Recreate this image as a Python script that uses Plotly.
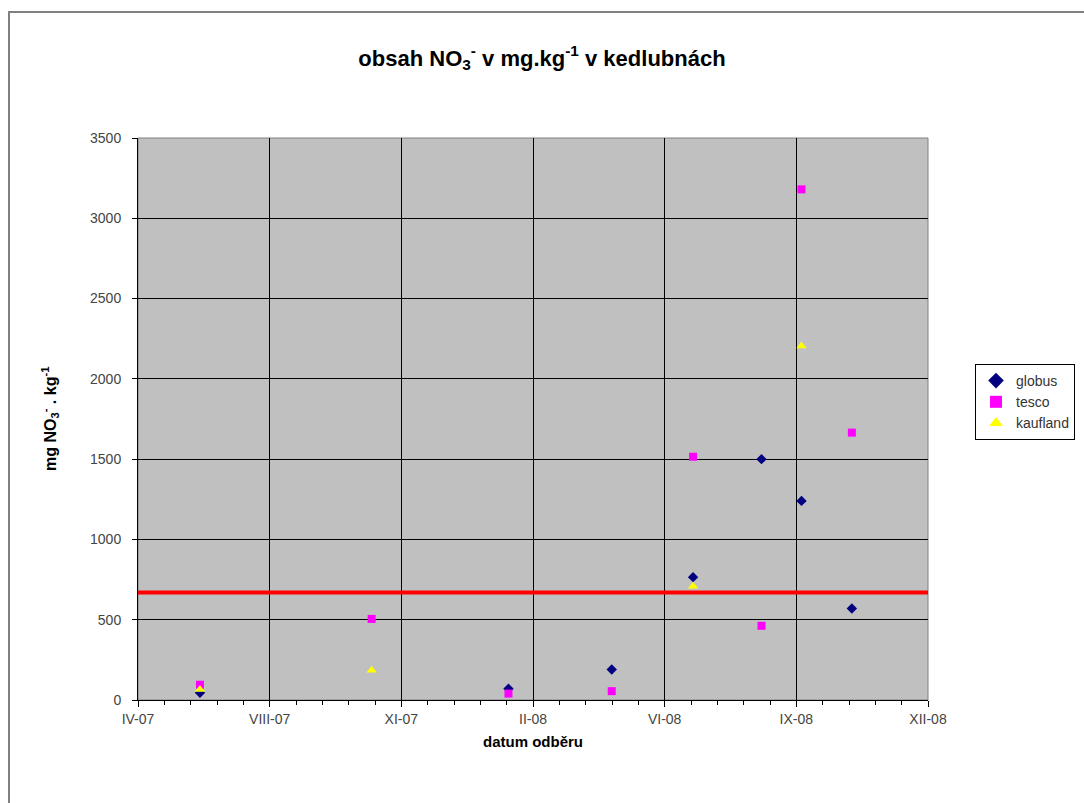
import plotly.graph_objects as go

# --- data ---
globus_dates = ["2007-06-15", "2008-02-09", "2008-04-29", "2008-07-01", "2008-08-23", "2008-09-23", "2008-11-01"]
globus_vals = [45, 70, 190, 765, 1500, 1240, 570]

tesco_dates = ["2007-06-15", "2007-10-26", "2008-02-09", "2008-04-29", "2008-07-01", "2008-08-23", "2008-09-23", "2008-11-01"]
tesco_vals = [95, 505, 40, 55, 1515, 462, 3180, 1665]

kaufland_dates = ["2007-06-15", "2007-10-26", "2008-07-01", "2008-09-23"]
kaufland_vals = [65, 185, 708, 2205]

LIMIT = 670

x_tickvals = ["2007-04-28", "2007-08-08", "2007-11-18", "2008-02-28", "2008-06-09", "2008-09-19", "2008-12-30"]
x_ticktext = ["IV-07", "VIII-07", "XI-07", "II-08", "VI-08", "IX-08", "XII-08"]
y_tickvals = [0, 500, 1000, 1500, 2000, 2500, 3000, 3500]

fig = go.Figure()
fig.add_trace(go.Scatter(x=globus_dates, y=globus_vals, mode="markers", name="globus",
                         marker=dict(symbol="diamond", size=8, color="#000080")))
fig.add_trace(go.Scatter(x=tesco_dates, y=tesco_vals, mode="markers", name="tesco",
                         marker=dict(symbol="square", size=8, color="#FF00FF")))
fig.add_trace(go.Scatter(x=kaufland_dates, y=kaufland_vals, mode="markers", name="kaufland",
                         marker=dict(symbol="triangle-up", size=9, color="#FFFF00")))
fig.add_trace(go.Scatter(x=[x_tickvals[0], x_tickvals[-1]], y=[LIMIT, LIMIT], mode="lines",
                         line=dict(color="#FF0000", width=4), showlegend=False, hoverinfo="skip"))

fig.update_layout(
    width=1084, height=803,
    margin=dict(l=138, r=156, t=138, b=103, autoexpand=False),
    paper_bgcolor="white",
    plot_bgcolor="#C0C0C0",
    font=dict(family="Arial, Liberation Sans, sans-serif", size=14, color="#333333"),
    title=dict(text="<b>obsah NO<sub>3</sub><sup>-</sup> v mg.kg<sup>-1</sup> v kedlubnách</b>",
               x=0.5, xref="container", xanchor="center", y=1 - 58 / 803, yanchor="middle",
               font=dict(size=22, color="black")),
    legend=dict(x=(975 - 138) / 790, y=(700 - 364) / 562, xanchor="left", yanchor="top",
                bgcolor="white", bordercolor="black", borderwidth=1,
                font=dict(size=14, color="#333333"), tracegroupgap=5, itemsizing="constant",
                itemwidth=30),
    showlegend=True,
)

fig.update_xaxes(
    type="date",
    range=[x_tickvals[0], x_tickvals[-1]],
    tickmode="array", tickvals=x_tickvals, ticktext=x_ticktext,
    showgrid=True, gridcolor="black", gridwidth=1,
    showline=True, linecolor="black", linewidth=1,
    ticks="outside", ticklen=6, tickcolor="black",
    minor=dict(ticks="outside", ticklen=4, tickcolor="black",
               dtick=102 / 5 * 86400000, tick0=x_tickvals[0], showgrid=False),
    zeroline=False,
    tickfont=dict(size=14, color="#444444"),
)
fig.update_yaxes(
    range=[0, 3500],
    tickmode="array", tickvals=y_tickvals,
    showgrid=True, gridcolor="black", gridwidth=1,
    showline=True, linecolor="black", linewidth=1,
    ticks="outside", ticklen=5, tickcolor="black",
    ticklabelstandoff=8,
    zeroline=False,
    tickfont=dict(size=14, color="#444444"),
)

# plot area border (gray) and outer chart border
fig.add_shape(type="rect", xref="paper", yref="paper", x0=0, x1=1, y0=0, y1=1,
              line=dict(color="#808080", width=1), layer="below")
fig.add_shape(type="rect", xref="paper", yref="paper",
              x0=(9 - 138) / 790, x1=1.3, y0=(700 - 12) / 562, y1=-0.3,
              line=dict(color="#808080", width=2), fillcolor="rgba(0,0,0,0)")

# axis titles
fig.add_annotation(text="<b>datum odběru</b>", xref="paper", yref="paper",
                   x=0.5, y=(700 - 741) / 562, showarrow=False,
                   font=dict(size=15, color="black"), xanchor="center", yanchor="middle")
fig.add_annotation(text="<b>mg NO<sub>3</sub><sup>-</sup> . kg<sup>-1</sup></b>", xref="paper", yref="paper",
                   x=(50 - 138) / 790, y=0.5, showarrow=False, textangle=-90,
                   font=dict(size=16, color="black"), xanchor="center", yanchor="middle")

fig.write_html("out.html")
